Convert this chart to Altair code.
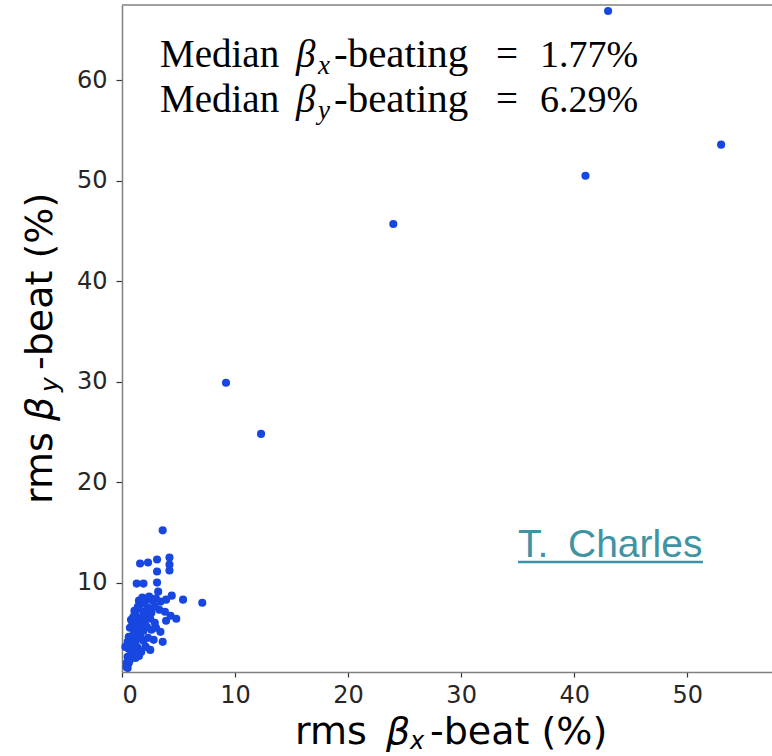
import altair as alt
import pandas as pd

# ---- data ----
beta_x_rms = [
    43.0, 53.0, 41.0, 24.0, 9.2, 12.3,
    3.6, 1.6, 2.3, 3.1, 4.2, 4.2, 3.1, 4.2, 1.3, 1.9, 3.1, 3.2, 4.4, 5.4, 7.1, 4.8, 3.6, 0.3, 0.4, 0.5,
    1.5, 1.8, 2.1, 2.4, 2.7, 3.0, 3.4, 3.9, 2.0, 1.4,
    1.1, 1.5, 1.9, 2.3, 2.6, 2.9, 3.3, 3.8, 1.2, 2.2,
    0.8, 1.0, 1.4, 1.7, 2.0, 2.5, 2.9, 3.9, 4.3, 1.2,
    0.7, 0.9, 1.3, 1.6, 1.9, 2.2, 2.6, 3.0, 3.4, 1.1,
    0.6, 0.8, 1.0, 1.3, 1.6, 1.9, 2.3, 2.8, 1.2, 0.5,
    0.6, 0.9, 1.1, 1.4, 1.7, 2.1, 2.5, 1.0,
    0.5, 0.7, 0.9, 1.2, 1.5, 0.6, 0.4,
]
beta_y_rms = [
    66.9, 53.6, 50.5, 45.7, 29.9, 24.8,
    15.2, 11.9, 12.0, 12.3, 12.5, 11.8, 11.1, 11.2, 9.9, 9.9, 10.0, 9.1, 8.7, 8.3, 8.0, 6.4, 4.1, 3.6, 2.0, 1.5,
    8.2, 8.5, 8.3, 8.6, 8.2, 8.4, 8.1, 8.3, 7.9, 7.6,
    7.2, 7.4, 7.1, 7.5, 7.0, 7.6, 7.3, 7.1, 6.8, 6.7,
    6.3, 6.6, 6.2, 6.5, 6.1, 6.4, 6.0, 6.2, 6.7, 5.9,
    5.5, 5.8, 5.4, 5.7, 5.2, 5.6, 5.3, 5.5, 5.1, 5.0,
    4.6, 4.3, 4.8, 4.4, 4.7, 4.2, 4.5, 4.3, 4.0, 4.1,
    3.4, 3.7, 3.2, 3.5, 3.1, 3.6, 3.3, 2.8,
    2.6, 2.3, 2.9, 2.5, 2.7, 2.0, 1.6,
]
x_ticks = [0, 10, 20, 30, 40, 50]
y_ticks = [10, 20, 30, 40, 50, 60]
median_values = ["1.77%", "6.29%"]

W, H = 650, 667
LEFT, TOP = 122, 5
X_DOMAIN = [0, 57.5]
Y_DOMAIN = [1.1, 67.5]

df = pd.DataFrame({"bx": beta_x_rms, "by": beta_y_rms})

points = alt.Chart(df).mark_circle(size=66, opacity=1, color="#1747e0").encode(
    x=alt.X("bx:Q", scale=alt.Scale(domain=X_DOMAIN, nice=False, zero=False),
            axis=alt.Axis(values=x_ticks, title=None, labelPadding=6, tickSize=5)),
    y=alt.Y("by:Q", scale=alt.Scale(domain=Y_DOMAIN, nice=False, zero=False),
            axis=alt.Axis(values=y_ticks, title=None, labelPadding=9, tickSize=6)),
)


def txt(s, ax, ay, size, font, style="normal", color="black", angle=0, align="left"):
    return alt.Chart(pd.DataFrame({"t": [s]})).mark_text(
        align=align, baseline="alphabetic", fontSize=size, font=font,
        fontStyle=style, color=color, angle=angle,
    ).encode(x=alt.value(ax - LEFT), y=alt.value(ay - TOP), text="t:N")


SERIF = "Liberation Serif"
SANS = "DejaVu Sans"
layers = [points]

# median annotation (two lines)
for base, sub, val in [(67, "x", median_values[0]), (112, "y", median_values[1])]:
    layers += [
        txt("Median", 160, base, 39, SERIF),
        txt("\u03b2", 296, base, 39, SERIF, style="italic"),
        txt(sub, 318, base + 7, 27, SERIF, style="italic"),
        txt("-beating", 334, base, 41, SERIF),
        txt("=", 496, base, 39, SERIF),
        txt(val, 540, base, 38, SERIF),
    ]

# x-axis title
layers += [
    txt("rms", 295, 744, 38, SANS),
    txt("\u03b2", 386, 744, 38, SANS, style="italic"),
    txt("x", 410, 749, 24, SANS, style="italic"),
    txt("-beat (%)", 430, 744, 38, SANS),
]
# y-axis title (rotated)
layers += [
    txt("rms", 52, 504, 38, SANS, angle=270),
    txt("\u03b2", 52, 421, 38, SANS, style="italic", angle=270),
    txt("y", 58, 392, 25, SANS, style="italic", angle=270),
    txt("-beat (%)", 52, 370, 38, SANS, angle=270),
]

# credit
layers.append(txt("T.", 518, 557, 39, "Liberation Sans", color="#3f93a3"))
layers.append(txt("Charles", 568, 557, 39, "Liberation Sans", color="#3f93a3"))
layers.append(
    alt.Chart(pd.DataFrame({"a": [0]})).mark_rule(color="#3f93a3", strokeWidth=2.5).encode(
        x=alt.value(518 - LEFT), x2=alt.value(703 - LEFT), y=alt.value(562 - TOP)
    )
)
# top frame line
layers.append(
    alt.Chart(pd.DataFrame({"a": [0]})).mark_rule(color="#808080", strokeWidth=1.5).encode(
        x=alt.value(0), x2=alt.value(W), y=alt.value(0)
    )
)

chart = alt.layer(*layers).properties(
    width=W, height=H,
    autosize=alt.AutoSizeParams(type="none"),
    padding={"left": LEFT, "top": TOP, "right": 0, "bottom": 84},
).configure_view(stroke=None).configure_axis(
    grid=False, labelFont=SANS, labelFontSize=24, labelColor="#262626",
    tickColor="#333333", domainColor="#808080", domainWidth=1.5, tickWidth=1.2,
)

chart.save("out.html", embed_options={"renderer": "svg", "actions": False})
